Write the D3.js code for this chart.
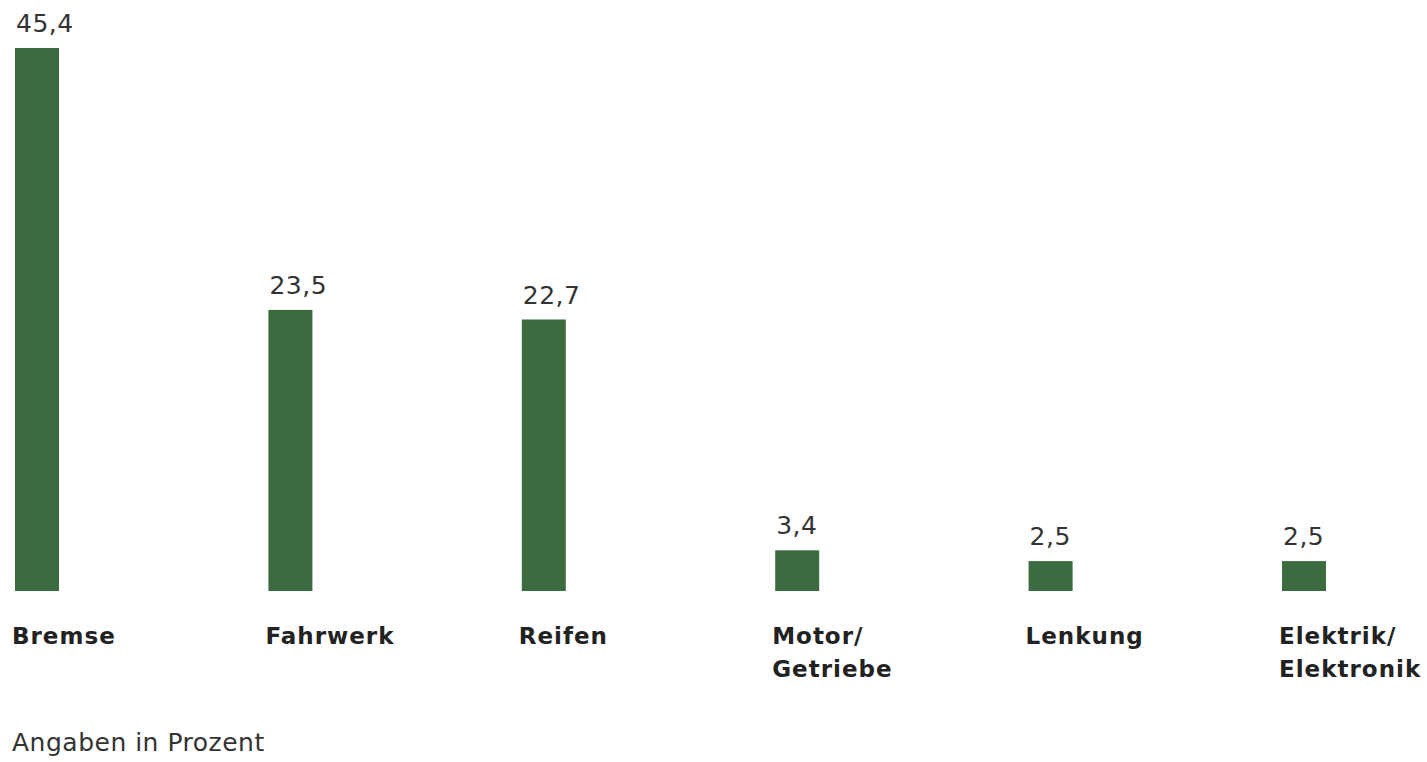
<!DOCTYPE html>
<html>
<head>
<meta charset="utf-8">
<script src="https://cdn.jsdelivr.net/npm/d3@7"></script>
<style>
  body { margin: 0; background: #fff; }
  svg text { font-family: "DejaVu Sans", sans-serif; }
</style>
</head>
<body>
<div id="chart"></div>
<script>
// Chart data
var categories = ["Bremse", "Fahrwerk", "Reifen", "Motor/Getriebe", "Lenkung", "Elektrik/Elektronik"];
var labelLines = [["Bremse"], ["Fahrwerk"], ["Reifen"], ["Motor/", "Getriebe"], ["Lenkung"], ["Elektrik/", "Elektronik"]];
var values = [45.4, 23.5, 22.7, 3.4, 2.5, 2.5];
var footnote = "Angaben in Prozent";

var svgWidth = 1427;
var svgHeight = 762;
var barWidth = 44;
var baseY = 591;

var svg = d3.select("#chart")
  .append("svg")
  .attr("width", svgWidth)
  .attr("height", svgHeight);

// x = left edge of each bar
var xScale = d3.scalePoint()
  .domain(categories)
  .range([15, 1282]);

var yScale = d3.scaleLinear()
  .domain([0, 45.4])
  .range([baseY, 48]);

var fmt = d => d3.format(".1f")(d).replace(".", ",");

// bars
svg.selectAll("rect.bar")
  .data(values)
  .enter()
  .append("rect")
  .attr("class", "bar")
  .attr("x", (d, i) => xScale(categories[i]))
  .attr("y", d => yScale(d))
  .attr("width", barWidth)
  .attr("height", d => baseY - yScale(d))
  .attr("fill", "#3d6b40");

// value labels
svg.selectAll("text.value")
  .data(values)
  .enter()
  .append("text")
  .attr("class", "value")
  .attr("x", (d, i) => xScale(categories[i]) + 1)
  .attr("y", d => yScale(d) - 16)
  .attr("font-size", "25px")
  .attr("letter-spacing", "0.5px")
  .attr("fill", "#333")
  .text(d => fmt(d));

// category labels
var catLabels = svg.selectAll("text.cat")
  .data(labelLines)
  .enter()
  .append("text")
  .attr("class", "cat")
  .attr("x", (d, i) => xScale(categories[i]) - 3)
  .attr("y", 644)
  .attr("font-size", "23px")
  .attr("font-weight", "bold")
  .attr("letter-spacing", "1px")
  .attr("fill", "#222");

catLabels.each(function(lines, i) {
  var t = d3.select(this);
  lines.forEach((line, j) => {
    t.append("tspan")
      .attr("x", xScale(categories[i]) - 3)
      .attr("dy", j === 0 ? 0 : 33)
      .text(line);
  });
});

// footnote
svg.append("text")
  .attr("x", 12)
  .attr("y", 751)
  .attr("font-size", "25px")
  .attr("letter-spacing", "0.5px")
  .attr("fill", "#333")
  .text(footnote);
</script>
</body>
</html>
